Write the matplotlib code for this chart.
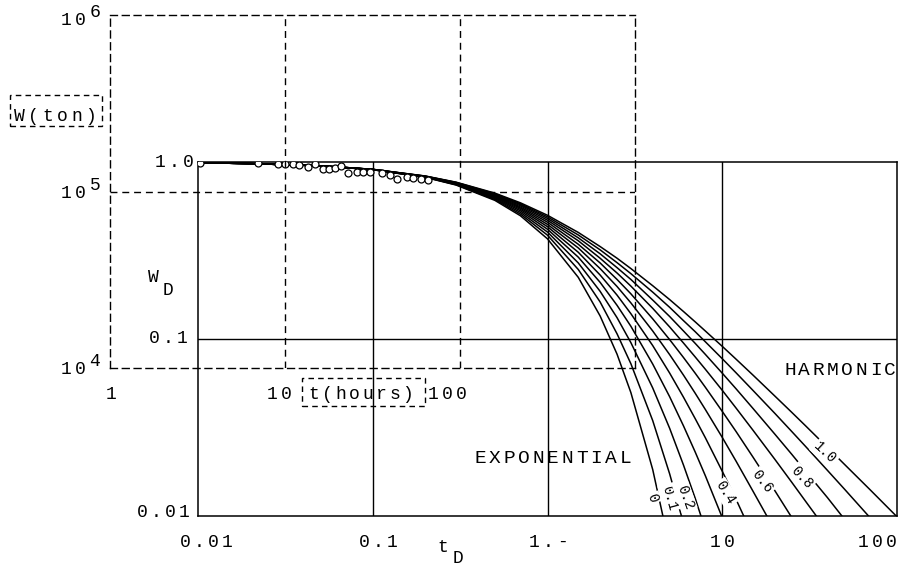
import numpy as np
import matplotlib.pyplot as plt
from matplotlib.patches import Rectangle

W, H = 899, 569
FONT = ['Liberation Mono', 'DejaVu Sans Mono']

# dimensionless time grid shared by the type curves
t_grid = [0.01, 0.02, 0.05, 0.1, 0.2, 0.3, 0.5, 0.7, 1, 1.5, 2, 2.5, 3, 4, 5,
          6, 7, 8, 10, 12, 15, 20, 25, 30, 40, 50, 70, 100]

# W_D (b = 0 ... 1), until it leaves the frame
wd_b00 = [0.990, 0.980, 0.951, 0.905, 0.819, 0.741, 0.607, 0.497, 0.368, 0.223,
          0.135, 0.0821, 0.0498, 0.0183, 0.0067]
wd_b01 = [0.990, 0.980, 0.951, 0.905, 0.820, 0.744, 0.614, 0.508, 0.386, 0.247,
          0.162, 0.107, 0.0725, 0.0346, 0.0173, 0.0091]
wd_b02 = [0.990, 0.980, 0.952, 0.906, 0.822, 0.747, 0.621, 0.519, 0.402, 0.269,
          0.186, 0.132, 0.0954, 0.0529, 0.0313, 0.0194, 0.0126, 0.0084]
wd_b03 = [0.990, 0.980, 0.952, 0.906, 0.824, 0.750, 0.628, 0.530, 0.417, 0.290,
          0.209, 0.155, 0.118, 0.0722, 0.0472, 0.0323, 0.0230, 0.0169, 0.0098]
wd_b04 = [0.990, 0.980, 0.952, 0.907, 0.825, 0.753, 0.634, 0.540, 0.431, 0.309,
          0.230, 0.177, 0.139, 0.0918, 0.0642, 0.0469, 0.0355, 0.0277, 0.0179,
          0.0124, 0.0077]
wd_b05 = [0.990, 0.980, 0.952, 0.907, 0.826, 0.756, 0.640, 0.549, 0.444, 0.327,
          0.250, 0.198, 0.160, 0.111, 0.0816, 0.0625, 0.0494, 0.0400, 0.0278,
          0.0204, 0.0138, 0.0083]
wd_b06 = [0.990, 0.980, 0.952, 0.908, 0.828, 0.759, 0.646, 0.557, 0.457, 0.343,
          0.269, 0.217, 0.180, 0.130, 0.0992, 0.0786, 0.0641, 0.0534, 0.0390,
          0.0300, 0.0215, 0.0139, 0.0098]
wd_b07 = [0.990, 0.980, 0.952, 0.908, 0.829, 0.762, 0.651, 0.566, 0.469, 0.359,
          0.286, 0.236, 0.199, 0.149, 0.117, 0.0949, 0.0792, 0.0675, 0.0513,
          0.0407, 0.0305, 0.0209, 0.0155, 0.0121, 0.0082]
wd_b08 = [0.990, 0.980, 0.952, 0.908, 0.831, 0.764, 0.657, 0.574, 0.480, 0.373,
          0.303, 0.253, 0.217, 0.166, 0.134, 0.111, 0.0945, 0.0819, 0.0641,
          0.0523, 0.0405, 0.0290, 0.0223, 0.0179, 0.0127, 0.0096]
wd_b09 = [0.990, 0.980, 0.952, 0.909, 0.832, 0.767, 0.662, 0.581, 0.490, 0.387,
          0.319, 0.270, 0.234, 0.184, 0.151, 0.127, 0.110, 0.0965, 0.0774,
          0.0644, 0.0512, 0.0380, 0.0300, 0.0247, 0.0181, 0.0142, 0.0098]
wd_b10 = [0.990, 0.980, 0.952, 0.909, 0.833, 0.769, 0.667, 0.588, 0.500, 0.400,
          0.333, 0.286, 0.250, 0.200, 0.167, 0.143, 0.125, 0.111, 0.0909,
          0.0769, 0.0625, 0.0476, 0.0385, 0.0323, 0.0244, 0.0196, 0.0141, 0.0099]

curves = [wd_b00, wd_b01, wd_b02, wd_b03, wd_b04, wd_b05,
          wd_b06, wd_b07, wd_b08, wd_b09, wd_b10]

# matched field data (open circles)
match_t = [0.0103, 0.0220, 0.0287, 0.0315, 0.0350, 0.0378, 0.0426, 0.0467,
           0.0519, 0.0562, 0.0608, 0.0658, 0.0722, 0.0813, 0.0880, 0.0964,
           0.113, 0.126, 0.138, 0.157, 0.170, 0.189, 0.207]
match_wd = [0.987, 0.987, 0.974, 0.974, 0.974, 0.962, 0.937, 0.974,
            0.913, 0.913, 0.925, 0.949, 0.867, 0.878, 0.878, 0.878,
            0.867, 0.845, 0.802, 0.823, 0.812, 0.802, 0.791]

curve_labels = ['0', '0.1', '0.2', '0.4', '0.6', '0.8', '1.0']

fig = plt.figure(figsize=(W / 100, H / 100), dpi=100)


def spaced(x, y, s, size=14, step=14.0, ha='left'):
   # typewriter text, one char at a time, pixel coords from top-left, y = baseline
   n = len(s)
   if ha == 'center':
      x0 = x - step * n / 2
   elif ha == 'right':
      x0 = x - step * n
   else:
      x0 = x
   for i, ch in enumerate(s):
      fig.text((x0 + step * (i + 0.5)) / W, 1 - y / H, ch, ha='center',
               va='baseline', fontsize=size, family=FONT, color='k')


def dashed_box(x0, y0, x1, y1):
   fig.patches.append(Rectangle((x0 / W, 1 - y1 / H), (x1 - x0) / W, (y1 - y0) / H,
                                transform=fig.transFigure, fill=False,
                                ec='k', lw=1.0, ls=(0, (4, 3))))


# ---- main type-curve axes ----
ax = fig.add_axes([198 / W, 1 - 516 / H, 699 / W, 354 / H])
ax.set_xscale('log')
ax.set_yscale('log')
ax.set_xlim(0.01, 100)
ax.set_ylim(0.01, 1.0)
ax.set_facecolor('none')
ax.tick_params(which='both', length=0, labelbottom=False, labelleft=False)
for sp in ax.spines.values():
   sp.set_linewidth(1.1)
for gx in [0.1, 1, 10]:
   ax.axvline(gx, color='k', lw=1.0)
ax.axhline(0.1, color='k', lw=1.0)

for vals in curves:
   ax.plot(t_grid[:len(vals)], vals, color='k', lw=1.1)

ax.plot(match_t, match_wd, 'o', mfc='white', mec='k', ms=5, mew=0.9, zorder=5)

label_pos = [(3.96, 0.0126, -72), (4.96, 0.0127, -75), (6.12, 0.0128, -70),
             (10.4, 0.0135, -58), (16.9, 0.0156, -52), (28.6, 0.0166, -47),
             (38.7, 0.0227, -43)]
for txt, (lx, ly, rot) in zip(curve_labels, label_pos):
   ax.text(lx, ly, txt, rotation=rot, rotation_mode='anchor', ha='center',
           va='center', fontsize=10, family=FONT, zorder=6,
           bbox=dict(facecolor='white', edgecolor='none', pad=1.0))

# ---- dashed overlay (field data sheet) ----
ax2 = fig.add_axes([110 / W, 1 - 368 / H, 525 / W, 353 / H])
ax2.set_xscale('log')
ax2.set_yscale('log')
ax2.set_xlim(1, 1000)
ax2.set_ylim(1e4, 1e6)
ax2.set_facecolor('none')
ax2.tick_params(which='both', length=0, labelbottom=False, labelleft=False)
dash = (0, (5, 3.5))
for sp in ax2.spines.values():
   sp.set_linestyle(dash)
   sp.set_linewidth(1.0)
for gx in [10, 100]:
   ax2.axvline(gx, color='k', lw=1.0, ls=dash)
ax2.axhline(1e5, color='k', lw=1.0, ls=dash)

# ---- texts ----
spaced(195, 167, '1.0', size=13, ha='right')
spaced(189, 343, '0.1', size=13, ha='right')
spaced(191, 517, '0.01', size=13, ha='right')

spaced(206, 547, '0.01', size=13, ha='center')
spaced(378, 547, '0.1', size=13, ha='center')
spaced(548, 547, '1.-', size=13, ha='center')
spaced(722, 547, '10', size=13, ha='center')
spaced(877, 547, '100', size=13, ha='center')

spaced(443, 552, 't', size=13, ha='center')
spaced(458, 563, 'D', size=13, ha='center')
spaced(153, 282, 'W', size=13, ha='center')
spaced(168, 295, 'D', size=13, ha='center')

spaced(473, 463, 'EXPONENTIAL', size=14, step=14.5)
spaced(783, 375, 'HARMONIC', size=14, step=14.25)

for ypx, sup in [(25, '6'), (198, '5'), (374, '4')]:
   spaced(73, ypx, '10', size=13, ha='center')
   spaced(95, ypx - 8, sup, size=13, ha='center')

spaced(111, 399, '1', size=13, ha='center')
spaced(279, 399, '10', size=13, ha='center')
spaced(361, 399, 't(hours)', size=13, step=13.4, ha='center')
spaced(447, 399, '100', size=13, ha='center')
dashed_box(302, 378, 425, 406)

spaced(55, 121, 'W(ton)', size=13, step=14.3, ha='center')
dashed_box(10, 95, 102, 126)

fig.savefig('out.png', dpi=100)
